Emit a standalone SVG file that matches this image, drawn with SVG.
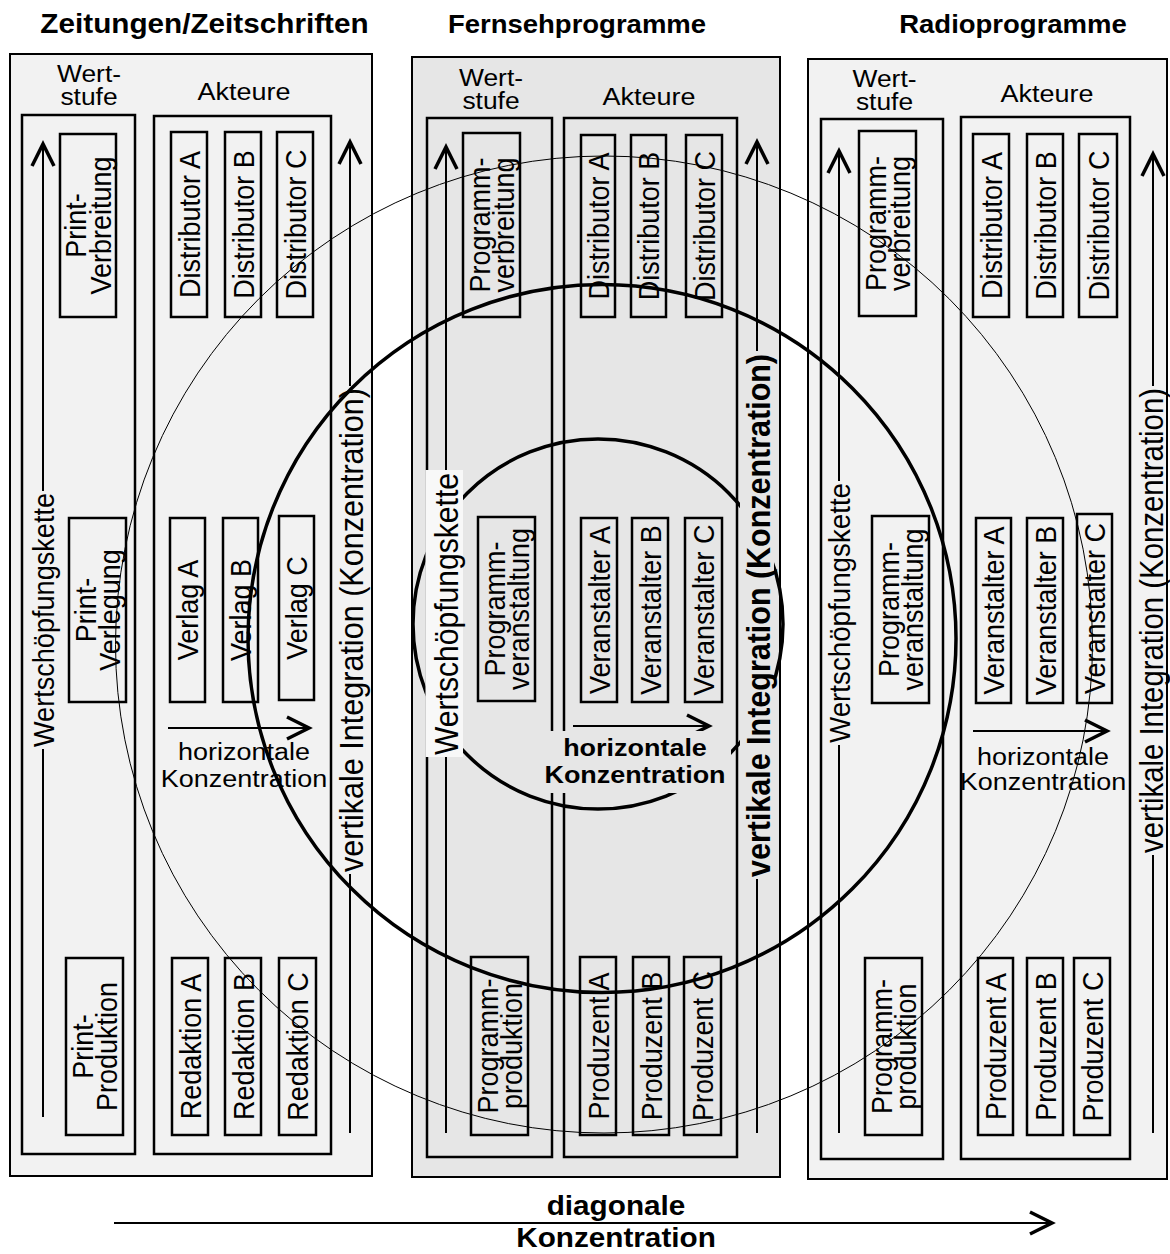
<svg xmlns="http://www.w3.org/2000/svg" width="1170" height="1254" viewBox="0 0 1170 1254">
<defs>
<style>
.t{font-family:'Liberation Sans',Arial,Helvetica,sans-serif;fill:#000}
.v{font-size:27px;text-anchor:middle}
.hz{font-size:24.5px;text-anchor:middle}
.ws{font-size:24px;text-anchor:middle}
.b{font-weight:bold}
.pl{fill:#f2f2f2;stroke:#000;stroke-width:2}
.pm{fill:#e6e6e6;stroke:#000;stroke-width:2}
.fr{fill:none;stroke:#000;stroke-width:2.5}
.bx{fill:none;stroke:#000;stroke-width:2.5}
.ln{fill:none;stroke:#000;stroke-width:2}
.ar{fill:none;stroke:#000;stroke-width:2;marker-end:url(#ah)}
.c1{fill:none;stroke:#000;stroke-width:1}
.c3{fill:none;stroke:#000;stroke-width:3.5}
</style>
<marker id="ah" markerUnits="userSpaceOnUse" viewBox="-30 -16 36 32" markerWidth="36" markerHeight="32" refX="0" refY="0" orient="auto"><path d="M-22,-11 L0,0 L-22,11" fill="none" stroke="#000" stroke-width="3.5"/></marker>
</defs>

<g id="titles" class="t b">
<text transform="matrix(1.1 0 0 1 204.5 0)" y="33" font-size="27" text-anchor="middle">Zeitungen/Zeitschriften</text>
<text transform="matrix(1.1 0 0 1 577 0)" y="33" font-size="25" text-anchor="middle">Fernsehprogramme</text>
<text transform="matrix(1.1 0 0 1 1013 0)" y="33" font-size="25" text-anchor="middle">Radioprogramme</text>
</g>

<!-- LEFT PANEL -->
<g id="panel-zeitungen">
<rect class="pl" x="10" y="54" width="362" height="1122"/>
<rect class="fr" x="22" y="115" width="113" height="1039"/>
<rect class="fr" x="154" y="116" width="177" height="1038"/>
<text class="t ws" transform="matrix(1.1 0 0 1 89 0)"><tspan x="0" y="82">Wert-</tspan><tspan x="0" y="105">stufe</tspan></text>
<text class="t hz" transform="matrix(1.1 0 0 1 244 0)" y="100">Akteure</text>
<text class="t hz" transform="matrix(1.1 0 0 1 244 0)"><tspan x="0" y="760">horizontale</tspan><tspan x="0" y="787">Konzentration</tspan></text>
<text class="t" font-size="27" text-anchor="middle" transform="matrix(0 -1 1.1 0 43 620)" y="9.7" textLength="254" lengthAdjust="spacingAndGlyphs">Wertschöpfungskette</text>
<text class="t" font-size="30" text-anchor="middle" transform="matrix(0 -1 1.1 0 350 630)" y="11.5" textLength="484" lengthAdjust="spacingAndGlyphs">vertikale Integration (Konzentration)</text>
</g>
<g id="l-print-verbreitung"><rect class="bx" x="60" y="134" width="56" height="183"/><text class="t v" transform="matrix(0 -1 1.1 0 88 225.5)"><tspan x="0" y="-1.4">Print-</tspan><tspan x="0" y="20.5">Verbreitung</tspan></text></g>
<g id="l-distributor-a"><rect class="bx" x="171" y="132" width="36" height="185"/><text class="t v" transform="matrix(0 -1 1.1 0 189 224.5)" y="9.7">Distributor A</text></g>
<g id="l-distributor-b"><rect class="bx" x="225" y="132" width="36" height="185"/><text class="t v" transform="matrix(0 -1 1.1 0 243 224.5)" y="9.7">Distributor B</text></g>
<g id="l-distributor-c"><rect class="bx" x="277" y="132" width="36" height="185"/><text class="t v" transform="matrix(0 -1 1.1 0 295 224.5)" y="9.7">Distributor C</text></g>
<g id="l-print-verlegung"><rect class="bx" x="69" y="518" width="57" height="184"/><text class="t v" transform="matrix(0 -1 1.1 0 97.5 610)"><tspan x="0" y="-1.4">Print-</tspan><tspan x="0" y="20.5">Verlegung</tspan></text></g>
<g id="l-verlag-a"><rect class="bx" x="170" y="518" width="35" height="184"/><text class="t v" transform="matrix(0 -1 1.1 0 187.5 610)" y="9.7">Verlag A</text></g>
<g id="l-verlag-b"><rect class="bx" x="223" y="518" width="35" height="184"/><text class="t v" transform="matrix(0 -1 1.1 0 240.5 610)" y="9.7">Verlag B</text></g>
<g id="l-verlag-c"><rect class="bx" x="279" y="516" width="35" height="184"/><text class="t v" transform="matrix(0 -1 1.1 0 296.5 608)" y="9.7">Verlag C</text></g>
<g id="l-print-produktion"><rect class="bx" x="66" y="958" width="57" height="177"/><text class="t v" transform="matrix(0 -1 1.1 0 94.5 1046.5)"><tspan x="0" y="-1.4">Print-</tspan><tspan x="0" y="20.5">Produktion</tspan></text></g>
<g id="l-redaktion-a"><rect class="bx" x="172" y="958" width="36" height="177"/><text class="t v" transform="matrix(0 -1 1.1 0 190 1046.5)" y="9.7">Redaktion A</text></g>
<g id="l-redaktion-b"><rect class="bx" x="225" y="958" width="36" height="177"/><text class="t v" transform="matrix(0 -1 1.1 0 243 1046.5)" y="9.7">Redaktion B</text></g>
<g id="l-redaktion-c"><rect class="bx" x="279" y="958" width="37" height="177"/><text class="t v" transform="matrix(0 -1 1.1 0 297.5 1046.5)" y="9.7">Redaktion C</text></g>

<!-- MIDDLE PANEL -->
<g id="panel-fernsehen">
<rect class="pm" x="412" y="57" width="368" height="1120"/>
<rect class="fr" x="427" y="118" width="125" height="1039"/>
<rect class="fr" x="564" y="118" width="173" height="1039"/>
<text class="t ws" transform="matrix(1.1 0 0 1 491 0)"><tspan x="0" y="86">Wert-</tspan><tspan x="0" y="109">stufe</tspan></text>
<text class="t hz" transform="matrix(1.1 0 0 1 649 0)" y="105">Akteure</text>
</g>
<g id="m-programmverbreitung"><rect class="bx" x="463" y="133" width="57" height="184"/><text class="t v" transform="matrix(0 -1 1.1 0 491.5 225)"><tspan x="0" y="-1.4">Programm-</tspan><tspan x="0" y="20.5">verbreitung</tspan></text></g>
<g id="m-distributor-a"><rect class="bx" x="581" y="135" width="34" height="182"/><text class="t v" transform="matrix(0 -1 1.1 0 598 226)" y="9.7">Distributor A</text></g>
<g id="m-distributor-b"><rect class="bx" x="631" y="135" width="35" height="182"/><text class="t v" transform="matrix(0 -1 1.1 0 648.5 226)" y="9.7">Distributor B</text></g>
<g id="m-distributor-c"><rect class="bx" x="686" y="135" width="36" height="182"/><text class="t v" transform="matrix(0 -1 1.1 0 704 226)" y="9.7">Distributor C</text></g>
<g id="m-programmveranstaltung"><rect class="bx" x="478" y="517" width="57" height="184"/><text class="t v" transform="matrix(0 -1 1.1 0 506.5 609)"><tspan x="0" y="-1.4">Programm-</tspan><tspan x="0" y="20.5">veranstaltung</tspan></text></g>
<g id="m-veranstalter-a"><rect class="bx" x="581" y="518" width="36" height="184"/><text class="t v" transform="matrix(0 -1 1.1 0 599 610)" y="9.7">Veranstalter A</text></g>
<g id="m-veranstalter-b"><rect class="bx" x="632" y="518" width="36" height="184"/><text class="t v" transform="matrix(0 -1 1.1 0 650 610)" y="9.7">Veranstalter B</text></g>
<g id="m-veranstalter-c"><rect class="bx" x="685" y="518" width="37" height="184"/><text class="t v" transform="matrix(0 -1 1.1 0 703.5 610)" y="9.7">Veranstalter C</text></g>
<g id="m-programmproduktion"><rect class="bx" x="471" y="957" width="57" height="178"/><text class="t v" transform="matrix(0 -1 1.1 0 499.5 1046)"><tspan x="0" y="-1.4">Programm-</tspan><tspan x="0" y="20.5">produktion</tspan></text></g>
<g id="m-produzent-a"><rect class="bx" x="580" y="957" width="36" height="178"/><text class="t v" transform="matrix(0 -1 1.1 0 598 1046)" y="9.7">Produzent A</text></g>
<g id="m-produzent-b"><rect class="bx" x="633" y="957" width="36" height="178"/><text class="t v" transform="matrix(0 -1 1.1 0 651 1046)" y="9.7">Produzent B</text></g>
<g id="m-produzent-c"><rect class="bx" x="684" y="957" width="37" height="178"/><text class="t v" transform="matrix(0 -1 1.1 0 702.5 1046)" y="9.7">Produzent C</text></g>

<!-- RIGHT PANEL -->
<g id="panel-radio">
<rect class="pl" x="808" y="59" width="359" height="1120"/>
<rect class="fr" x="821" y="119" width="122" height="1040"/>
<rect class="fr" x="961" y="117" width="169" height="1042"/>
<text class="t ws" transform="matrix(1.1 0 0 1 884.5 0)"><tspan x="0" y="87">Wert-</tspan><tspan x="0" y="110">stufe</tspan></text>
<text class="t hz" transform="matrix(1.1 0 0 1 1047 0)" y="102">Akteure</text>
<text class="t hz" transform="matrix(1.1 0 0 1 1043 0)"><tspan x="0" y="765">horizontale</tspan><tspan x="0" y="790">Konzentration</tspan></text>
<text class="t" font-size="27.5" text-anchor="middle" transform="matrix(0 -1 1.1 0 839 613)" y="9.8" textLength="260" lengthAdjust="spacingAndGlyphs">Wertschöpfungskette</text>
<text class="t" font-size="29.5" text-anchor="middle" transform="matrix(0 -1 1.1 0 1153 620.5)" y="9.5" textLength="465" lengthAdjust="spacingAndGlyphs">vertikale Integration (Konzentration)</text>
</g>
<g id="r-programmverbreitung"><rect class="bx" x="859" y="131" width="57" height="185"/><text class="t v" transform="matrix(0 -1 1.1 0 887.5 223.5)"><tspan x="0" y="-1.4">Programm-</tspan><tspan x="0" y="20.5">verbreitung</tspan></text></g>
<g id="r-distributor-a"><rect class="bx" x="973" y="134" width="36" height="183"/><text class="t v" transform="matrix(0 -1 1.1 0 991 225.5)" y="9.7">Distributor A</text></g>
<g id="r-distributor-b"><rect class="bx" x="1027" y="134" width="36" height="183"/><text class="t v" transform="matrix(0 -1 1.1 0 1045 225.5)" y="9.7">Distributor B</text></g>
<g id="r-distributor-c"><rect class="bx" x="1079" y="134" width="38" height="183"/><text class="t v" transform="matrix(0 -1 1.1 0 1098 225.5)" y="9.7">Distributor C</text></g>
<g id="r-programmveranstaltung"><rect class="bx" x="872" y="516" width="57" height="187"/><text class="t v" transform="matrix(0 -1 1.1 0 900.5 609.5)"><tspan x="0" y="-1.4">Programm-</tspan><tspan x="0" y="20.5">veranstaltung</tspan></text></g>
<g id="r-veranstalter-a"><rect class="bx" x="976" y="518" width="35" height="185"/><text class="t v" transform="matrix(0 -1 1.1 0 993.5 610.5)" y="9.7">Veranstalter A</text></g>
<g id="r-veranstalter-b"><rect class="bx" x="1027" y="518" width="36" height="185"/><text class="t v" transform="matrix(0 -1 1.1 0 1045 610.5)" y="9.7">Veranstalter B</text></g>
<g id="r-veranstalter-c"><rect class="bx" x="1077" y="514" width="35" height="189"/><text class="t v" transform="matrix(0 -1 1.1 0 1094.5 608.5)" y="9.7">Veranstalter C</text></g>
<g id="r-programmproduktion"><rect class="bx" x="865" y="958" width="57" height="177"/><text class="t v" transform="matrix(0 -1 1.1 0 893.5 1046.5)"><tspan x="0" y="-1.4">Programm-</tspan><tspan x="0" y="20.5">produktion</tspan></text></g>
<g id="r-produzent-a"><rect class="bx" x="978" y="958" width="35" height="177"/><text class="t v" transform="matrix(0 -1 1.1 0 995.5 1046.5)" y="9.7">Produzent A</text></g>
<g id="r-produzent-b"><rect class="bx" x="1027" y="958" width="36" height="177"/><text class="t v" transform="matrix(0 -1 1.1 0 1045 1046.5)" y="9.7">Produzent B</text></g>
<g id="r-produzent-c"><rect class="bx" x="1074" y="958" width="36" height="177"/><text class="t v" transform="matrix(0 -1 1.1 0 1092 1046.5)" y="9.7">Produzent C</text></g>

<!-- CONNECTORS -->
<g id="connectors">
<path class="ar" d="M43,491 V144"/><path class="ln" d="M43,749 V1117"/>
<path class="ar" d="M350,386 V142"/><path class="ln" d="M350,874 V1133"/>
<path class="ar" d="M168,728 H309"/>
<path class="ar" d="M446,471 V147"/><path class="ln" d="M446,757 V1133"/>
<path class="ar" d="M757,352 V142"/><path class="ln" d="M757,879 V1133"/>
<path class="ar" d="M573,726 H709"/>
<path class="ar" d="M839,481 V151"/><path class="ln" d="M839,745 V1133"/>
<path class="ar" d="M1153,386 V154"/><path class="ln" d="M1153,855 V1133"/>
<path class="ar" d="M973,731 H1107"/>
<path class="ar" d="M114,1223 H1052"/>
</g>

<g id="concentration-circles">
<circle class="c1" cx="604" cy="644.5" r="488.5"/>
<circle class="c3" cx="602" cy="638.5" r="354"/>
<circle class="c3" cx="598" cy="624" r="185"/>
</g>

<g id="mid-overlay-labels">
<rect x="425.5" y="470" width="37.5" height="287" fill="#f8f8f8"/>
<text class="t" font-size="30" text-anchor="middle" transform="matrix(0 -1 1.1 0 446 614)" y="10.7" textLength="282" lengthAdjust="spacingAndGlyphs">Wertschöpfungskette</text>
<rect x="543" y="731" width="188" height="62" fill="#e6e6e6"/>
<text class="t hz b" transform="matrix(1.1 0 0 1 635 0)"><tspan x="0" y="756">horizontale</tspan><tspan x="0" y="783">Konzentration</tspan></text>
<rect x="740" y="351" width="34" height="528" fill="#e6e6e6"/>
<text class="t b" font-size="30" text-anchor="middle" transform="matrix(0 -1 1.1 0 757 615.5)" y="12" textLength="523" lengthAdjust="spacingAndGlyphs">vertikale Integration (Konzentration)</text>
</g>

<g id="bottom-label" class="t b">
<text transform="matrix(1.1 0 0 1 616 0)" y="1215" font-size="27" text-anchor="middle">diagonale</text>
<text transform="matrix(1.1 0 0 1 616 0)" y="1247" font-size="27" text-anchor="middle">Konzentration</text>
</g>
</svg>
